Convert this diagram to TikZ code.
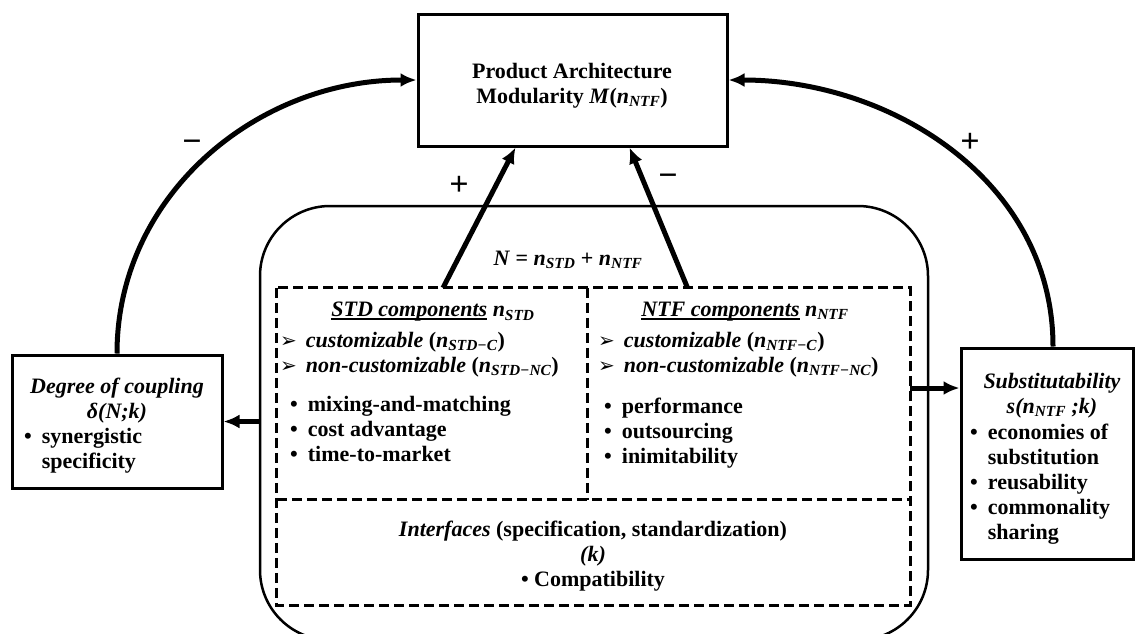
\documentclass[tikz,border=0pt]{standalone}
\usepackage{fontspec}
\setmainfont{Liberation Serif}
\newfontfamily\dingfont{DejaVu Sans}
\usetikzlibrary{arrows.meta}

\newsavebox\ulbox
\newcommand\sbs[1]{\textsubscript{\itshape #1}}
\newcommand\pnt{{\dingfont\fontsize{20}{20}\selectfont ➢}\hspace{9pt}}
\newcommand\bul{\textbullet\hspace{10pt}}
\newcommand\undl[1]{\sbox\ulbox{#1}\rlap{\rule[-3.5pt]{\wd\ulbox}{2pt}}\usebox\ulbox}

\begin{document}
\begin{tikzpicture}[x=1pt,y=-1pt,
  every node/.style={font=\bfseries\fontsize{22}{25}\selectfont, inner sep=0pt},
  box/.style={draw, line width=3pt},
  dlin/.style={dash pattern=on 10pt off 5pt, line width=3pt},
  arr/.style={line width=5pt, -{Latex[length=16pt,width=14pt]}},
  sign/.style={font=\bfseries\fontsize{34}{34}\selectfont}
]
\useasboundingbox (0,0) rectangle (1135,633);

% boxes
\node[box, minimum width=309pt, minimum height=132pt] (pam) at (572.5,80) {};
\node[draw, line width=2.5pt, rounded corners=70pt, minimum width=668pt, minimum height=434pt] (frame) at (594,423) {};
\node[minimum width=310pt, minimum height=212pt] (std) at (432,394) {};
\node[minimum width=323pt, minimum height=212pt] (ntf) at (748.5,394) {};
\node[minimum width=633pt, minimum height=105pt] (intf) at (593.5,552.5) {};
\draw[dlin] (std.north west) rectangle (intf.south east);
\draw[dlin] (std.north east) -- (std.south east);
\draw[dlin] (intf.north west) -- (intf.north east);
\node[box, minimum width=210pt, minimum height=133pt] (coup) at (117,421.5) {};
\node[box, minimum width=172pt, minimum height=211pt] (subs) at (1047,453.5) {};

% texts
\node[align=center] (pamt) at (572,86) {Product Architecture\\Modularity \textit{M}(\textit{n}\sbs{NTF})};
\node (nsum) at (568,260) {\textit{N} = \textit{n}\sbs{STD} + \textit{n}\sbs{NTF}};
\node (stdt) at (433,312) {\undl{\textit{STD components}} \textit{n}\sbs{STD}};
\node[anchor=west, align=left] (stdc) at (280,355)
  {\pnt\textit{customizable} (\textit{n}\sbs{STD−C})\\ \pnt\textit{non-customizable} (\textit{n}\sbs{STD−NC})};
\node[anchor=west, align=left] (stdb) at (290,429)
  {\bul mixing-and-matching\\ \bul cost advantage\\ \bul time-to-market};
\node (ntft) at (745,312) {\undl{\textit{NTF components}} \textit{n}\sbs{NTF}};
\node[anchor=west, align=left] (ntfc) at (598,355)
  {\pnt\textit{customizable} (\textit{n}\sbs{NTF−C})\\ \pnt\textit{non-customizable} (\textit{n}\sbs{NTF−NC})};
\node[anchor=west, align=left] (ntfb) at (604,433)
  {\bul performance\\ \bul outsourcing\\ \bul inimitability};
\node[align=center] (intt) at (593,556)
  {\textit{Interfaces} (specification, standardization)\\ \textit{(k)}\\ \textbullet\ Compatibility};
\node[align=center] (coupt) at (117,401) {\textit{Degree of coupling}\\ \textit{δ(N;k)}};
\node[anchor=west, align=left] (coupb) at (24,451) {\bul synergistic\\ \phantom{\bul}specificity};
\node[align=center] (subst) at (1052,396) {\textit{Substitutability}\\ \textit{s(n\sbs{NTF} ;k)}};
\node[anchor=west, align=left] (subsb) at (970,484)
  {\bul economies of\\ \phantom{\bul}substitution\\ \bul reusability\\ \bul commonality\\ \phantom{\bul}sharing};

% connectors
\draw[arr] ([xshift=11pt]std.north) -- ([xshift=-57pt]pam.south);
\draw[arr] ([xshift=-61pt]ntf.north) -- ([xshift=57pt]pam.south);
\draw[arr] (coup.north) to[out=90,in=180] (pam.west);
\draw[arr] ([xshift=6pt]subs.north) to[out=90,in=0] (pam.east);
\draw[arr] (coup.east -| frame.west) -- (coup.east);
\draw[arr] ([yshift=6pt]ntf.east) -- ([yshift=6pt]ntf.east -| subs.west);

% signs
\node[sign] (s1) at (192,146) {−};
\node[sign] (s2) at (970,143) {+};
\node[sign] (s3) at (459,186) {+};
\node[sign] (s4) at (668,180) {−};
\end{tikzpicture}
\end{document}
